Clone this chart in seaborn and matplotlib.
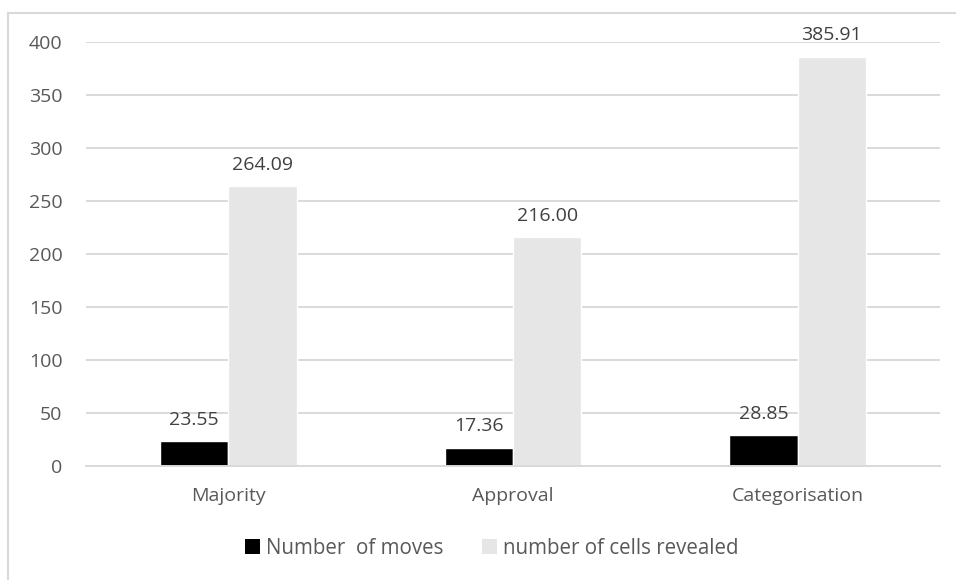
import matplotlib
matplotlib.use("Agg")
import matplotlib.pyplot as plt
from matplotlib.lines import Line2D
from matplotlib.patches import Patch
import seaborn as sns
import pandas as pd

categories = ["Majority", "Approval", "Categorisation"]
moves = [23.55, 17.36, 28.85]
cells_revealed = [264.09, 216.00, 385.91]
series_names = ["Number  of moves", "number of cells revealed"]
y_ticks = [0, 50, 100, 150, 200, 250, 300, 350, 400]

colors = ["#000000", "#e7e6e6"]
text_color = "#595959"
grid_color = "#d9d9d9"

df = pd.DataFrame({
    "category": categories * 2,
    "series": [series_names[0]] * 3 + [series_names[1]] * 3,
    "value": moves + cells_revealed,
})

sns.set_style("white")
plt.rcParams["font.family"] = ["Open Sans", "DejaVu Sans"]

fig = plt.figure(figsize=(9.56, 5.8), dpi=100)
ax = fig.add_axes([86 / 956, 1 - 466 / 580, (940 - 86) / 956, (466 - 42) / 580])

sns.barplot(data=df, x="category", y="value", hue="series", palette=colors,
            width=0.48, gap=0, saturation=1, ax=ax, legend=False, zorder=2)

ax.set_ylim(0, 400)
ax.set_xlim(-0.5, 2.5)
ax.set_yticks(y_ticks)
ax.yaxis.grid(True, color=grid_color, linewidth=1.4, zorder=0)
ax.set_axisbelow(True)
for s in ["top", "right", "left"]:
    ax.spines[s].set_visible(False)
ax.spines["bottom"].set_color(grid_color)
ax.spines["bottom"].set_linewidth(1.4)
ax.tick_params(axis="both", length=0, labelsize=14, colors=text_color)
ax.tick_params(axis="x", pad=15)
ax.tick_params(axis="y", pad=17)
ax.set_xlabel("")
ax.set_ylabel("")

for container in ax.containers:
    ax.bar_label(container, fmt="%.2f", padding=9, fontsize=14, color="#404040")

handles = [Patch(facecolor=c, edgecolor="none") for c in colors]
fig.legend(handles, series_names, loc="center", bbox_to_anchor=(492 / 956, 1 - 548 / 580),
           ncol=2, frameon=False, fontsize=14.8, labelcolor=text_color,
           handlelength=0.7, handleheight=0.7, handletextpad=0.3, columnspacing=1.9)

# Frame around the chart area
fig.add_artist(Line2D([8 / 956, 8 / 956], [0, 1 - 13 / 580], color=grid_color,
                      linewidth=1.5, transform=fig.transFigure))
fig.add_artist(Line2D([8 / 956, 1], [1 - 13 / 580, 1 - 13 / 580], color=grid_color,
                      linewidth=1.5, transform=fig.transFigure))

fig.savefig("out.png", dpi=100, facecolor="white")
